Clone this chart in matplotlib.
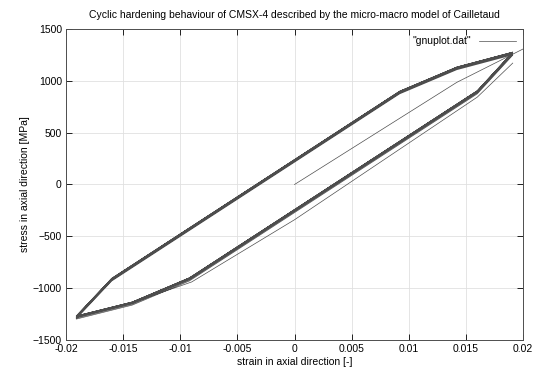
import numpy as np
import matplotlib
matplotlib.use('Agg')
import matplotlib.pyplot as plt

plt.rcParams['font.family'] = ['Liberation Sans', 'DejaVu Sans']

# first loading (leaves the plot at eps = 0.02)
load_eps = [0.0, 0.0142, 0.0215]
load_sig = [0.0, 985.0, 1390.0]

# first unloading
unload_eps = [0.0191, 0.0160, 0.0, -0.0090, -0.0142, -0.0191]
unload_sig = [1171.0, 843.0, -340.0, -940.0, -1140.0, -1275.0]

# stabilised loop, upper (tension going) and lower (compression going) branch
upper_eps = [-0.0191, -0.0160, 0.0092, 0.0142, 0.0191]
upper_sig = [-1268.0, -905.0, 900.0, 1133.0, 1277.0]
lower_eps = [0.0191, 0.0160, -0.0092, -0.0142, -0.0191]
lower_sig = [1277.0, 905.0, -900.0, -1133.0, -1268.0]

# shift of each following cycle w.r.t. the stabilised loop [MPa]
upper_shift = [-26, -19, -13, -8, -5, -2, 0, 0]
lower_shift = [-30, -21, -14, -8, -4, -1, 0, 0]

fig = plt.figure(figsize=(5.35, 3.74), dpi=100)
ax = fig.add_axes([0.1234, 0.0909, 0.8542, 0.8316])

col = '0.3'
lw = 0.5

eps = list(unload_eps)
sig = list(unload_sig)
for su, sl in zip(upper_shift, lower_shift):
    eps += upper_eps + lower_eps
    sig += [s + su for s in upper_sig] + [s + sl for s in lower_sig]

ax.plot(load_eps, load_sig, color=col, lw=lw, label='"gnuplot.dat"')
ax.plot(eps, sig, color=col, lw=lw)

ax.set_xlim(-0.02, 0.02)
ax.set_ylim(-1500, 1500)
ax.set_xticks(np.arange(-0.02, 0.0201, 0.005))
ax.set_xticklabels(['-0.02', '-0.015', '-0.01', '-0.005', '0',
                    '0.005', '0.01', '0.015', '0.02'])
ax.set_yticks(np.arange(-1500, 1501, 500))
ax.tick_params(direction='in', top=True, right=True, labelsize=7.5,
               length=4, width=0.6, pad=3)
ax.grid(True, color='0.88', lw=0.6)
for sp in ax.spines.values():
    sp.set_linewidth(0.7)
    sp.set_color('0.3')

ax.set_xlabel('strain in axial direction [-]', fontsize=7.5, labelpad=2)
ax.set_ylabel('stress in axial direction [MPa]', fontsize=7.5, labelpad=2)
ax.set_title('Cyclic hardening behaviour of CMSX-4 described by the micro-macro model of Cailletaud',
             fontsize=7.5, pad=8)

leg = ax.legend(loc='upper right', frameon=False, fontsize=7.5,
                handlelength=3.5, markerfirst=False, borderaxespad=0.3)

fig.savefig('out.png', dpi=100)
